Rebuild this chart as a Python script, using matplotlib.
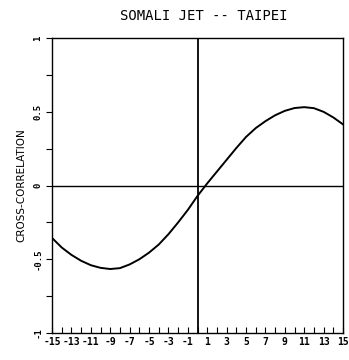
import matplotlib
matplotlib.use("Agg")
import matplotlib.pyplot as plt
import numpy as np

lags = list(range(-15, 16))
corr = [-0.355, -0.42, -0.47, -0.51, -0.54, -0.558, -0.566, -0.56, -0.535, -0.50,
        -0.455, -0.40, -0.33, -0.25, -0.165, -0.07, 0.015, 0.095, 0.175, 0.255,
        0.33, 0.39, 0.437, 0.477, 0.507, 0.526, 0.532, 0.525, 0.50, 0.462, 0.415]
xtick_labels = [-15, -13, -11, -9, -7, -5, -3, -1, 1, 3, 5, 7, 9, 11, 13, 15]
ytick_vals = [-1, -0.5, 0, 0.5, 1]
ytick_labels = ["-1", "-0.5", "0", "0.5", "1"]

fig = plt.figure(figsize=(3.49, 3.60), dpi=100)
ax = fig.add_axes([0.149, 0.075, 0.834, 0.819])
font = "DejaVu Sans Mono"

ax.plot(lags, corr, color="black", lw=1.4)
ax.axhline(0, color="black", lw=1.0)
ax.axvline(0, color="black", lw=1.3)
ax.set_xlim(-15, 15)
ax.set_ylim(-1, 1)
for s in ax.spines.values():
    s.set_linewidth(1.0)

ax.set_xticks(xtick_labels)
ax.set_xticklabels([str(v) for v in xtick_labels], fontfamily=font, fontsize=7, fontweight="bold")
ax.set_xticks(range(-15, 16), minor=True)
ax.tick_params(axis="x", which="both", direction="in", length=4, width=0.8, pad=3)
ax.set_yticks(ytick_vals)
ax.set_yticklabels(ytick_labels, fontfamily=font, fontsize=6.5, fontweight="bold", rotation=90, va="center")
ax.set_yticks(np.arange(-1, 1.01, 0.25), minor=True)
ax.tick_params(axis="y", which="both", direction="out", length=4, width=0.8, pad=3)

ax.set_ylabel("CROSS-CORRELATION", fontfamily="DejaVu Sans", fontsize=7.5, labelpad=5)
fig.text(0.585, 0.955, "SOMALI JET -- TAIPEI", fontfamily=font, fontsize=10, ha="center", va="center")

fig.savefig("out.png", dpi=100)
